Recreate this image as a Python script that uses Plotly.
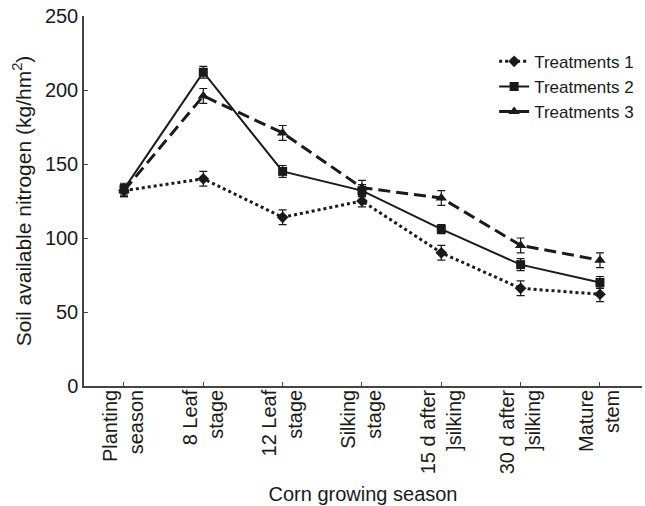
import plotly.graph_objects as go

categories = ["Planting<br>season", "8 Leaf<br>stage", "12 Leaf<br>stage", "Silking<br>stage",
              "15 d after<br>]silking", "30 d after<br>]silking", "Mature<br>stem"]
t1 = [132, 140, 114, 125, 90, 66, 62]
t2 = [133, 212, 145, 132, 106, 82, 70]
t3 = [132, 196, 171, 134, 127, 95, 85]
t1_err = [4, 5, 5, 4, 5, 5, 5]
t2_err = [4, 4, 4, 4, 3, 4, 4]
t3_err = [4, 5, 5, 5, 5, 5, 5]
names = ["Treatments 1", "Treatments 2", "Treatments 3"]
yticks = [0, 50, 100, 150, 200, 250]

ink = "#1a1a1a"
x = list(range(len(categories)))

def err(e):
    return dict(type="data", array=e, visible=True, color=ink, thickness=1.2, width=4)

fig = go.Figure()
fig.add_trace(go.Scatter(x=x, y=t1, name=names[0], mode="lines+markers", error_y=err(t1_err),
                         line=dict(color=ink, width=3, dash="dot"),
                         marker=dict(symbol="diamond", size=9, color=ink)))
fig.add_trace(go.Scatter(x=x, y=t2, name=names[1], mode="lines+markers", error_y=err(t2_err),
                         line=dict(color=ink, width=2),
                         marker=dict(symbol="square", size=9, color=ink)))
fig.add_trace(go.Scatter(x=x, y=t3, name=names[2], mode="lines+markers", error_y=err(t3_err),
                         line=dict(color=ink, width=3, dash="12px,6px"),
                         marker=dict(symbol="triangle-up", size=10, color=ink)))

fig.update_layout(
    width=645, height=506,
    margin=dict(l=84, r=3, t=16, b=120, autoexpand=False),
    paper_bgcolor="white", plot_bgcolor="white",
    font=dict(family="Liberation Sans, Arial, sans-serif", size=20, color=ink),
    showlegend=True,
    legend=dict(x=0.735, y=0.925, xanchor="left", yanchor="top", bgcolor="rgba(0,0,0,0)",
                font=dict(size=17), itemwidth=30, tracegroupgap=0),
)
fig.update_xaxes(
    range=[-0.504, 6.53], tickmode="array", tickvals=x, ticktext=categories,
    tickangle=-90, ticks="inside", ticklen=4, tickcolor="#444", ticklabelstandoff=-6,
    showline=True, linecolor="#444", linewidth=1.5, showgrid=False, zeroline=False,
    title=dict(text="Corn growing season", font=dict(size=20), standoff=14),
    automargin=False,
)
fig.update_yaxes(
    range=[0, 250], tickmode="array", tickvals=yticks,
    ticks="inside", ticklen=4, tickcolor="#444",
    showline=True, linecolor="#444", linewidth=1.5, showgrid=False, zeroline=False,
    title=dict(text="Soil available nitrogen (kg/hm<sup>2</sup>)", font=dict(size=21), standoff=8),
    automargin=False,
)
fig.write_html("out.html", config={"displayModeBar": False},
               post_script="document.body.style.margin='0';")
